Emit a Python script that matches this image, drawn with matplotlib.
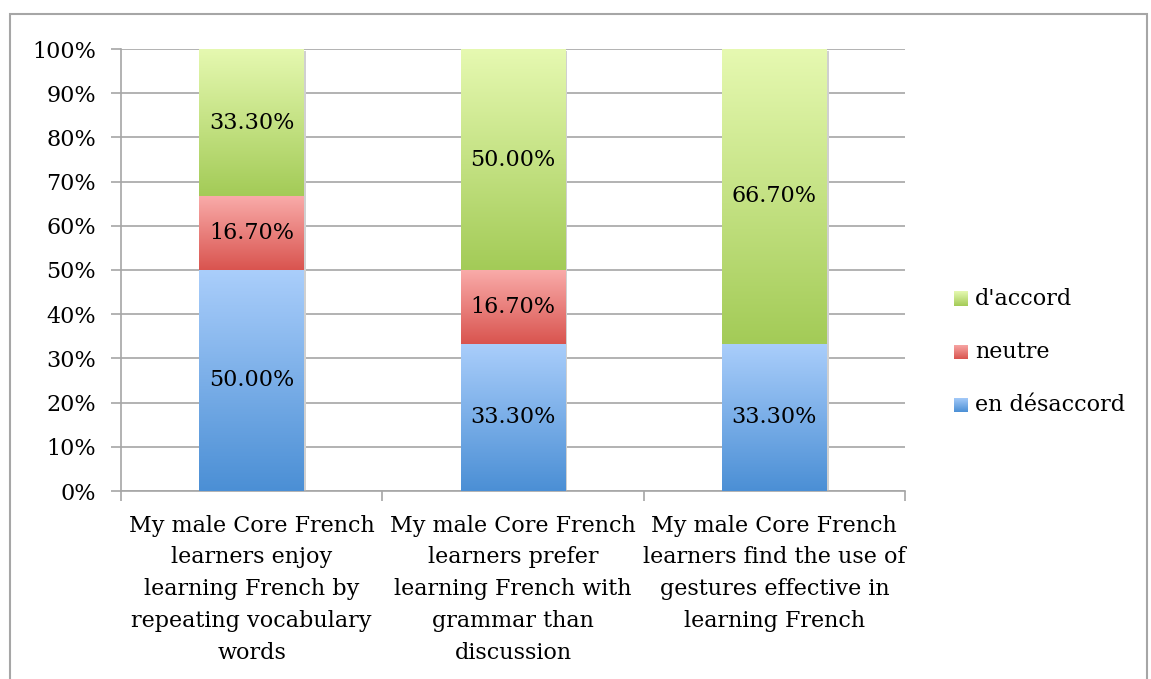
import numpy as np
import matplotlib
matplotlib.use('Agg')
import matplotlib.pyplot as plt
from matplotlib.colors import LinearSegmentedColormap
from matplotlib.patches import Rectangle

categories = [
    "My male Core French\nlearners enjoy\nlearning French by\nrepeating vocabulary\nwords",
    "My male Core French\nlearners prefer\nlearning French with\ngrammar than\ndiscussion",
    "My male Core French\nlearners find the use of\ngestures effective in\nlearning French",
]
series_names = ["en désaccord", "neutre", "d'accord"]
desaccord = [50.0, 33.3, 33.3]
neutre = [16.7, 16.7, 0.0]
accord = [33.3, 50.0, 66.7]

# couleurs : (haut, bas) du dégradé
grad = {
    "en désaccord": ("#aacefb", "#4b8fd5"),
    "neutre": ("#f9aba9", "#d9544f"),
    "d'accord": ("#e6f9b1", "#a3cb57"),
}

plt.rcParams['font.family'] = ['DejaVu Serif']
fs = 16

fig = plt.figure(figsize=(11.51, 6.79), dpi=100)
ax = fig.add_axes([121/1151, 1 - 491/679, (905-121)/1151, (491-49)/679])

# cadre extérieur
fig.patches.append(Rectangle((10/1151, -0.01), 1137/1151, 1 - 14/679 + 0.01,
                             transform=fig.transFigure, fill=False,
                             edgecolor='#a6a6a6', lw=1.5, zorder=0))

x = np.arange(len(categories))
width = 0.40
bottom = np.zeros(len(categories))
gradient = np.linspace(1, 0, 256).reshape(-1, 1)
legend_handles = []
for name, vals in zip(series_names, [desaccord, neutre, accord]):
    top_c, bot_c = grad[name]
    cmap = LinearSegmentedColormap.from_list(name, [bot_c, top_c])
    bars = ax.bar(x, vals, width, bottom=bottom, color='none', edgecolor='none', zorder=3)
    for b, v, b0 in zip(bars, vals, bottom):
        if v <= 0:
            continue
        x0 = b.get_x()
        # petite ombre
        ax.add_patch(Rectangle((x0 + 0.008, b0 - 0.4), width, v, color='#d0d0d0', zorder=2, lw=0))
        im = ax.imshow(gradient, extent=[x0, x0 + width, b0, b0 + v], aspect='auto',
                       cmap=cmap, vmin=0, vmax=1, zorder=3)
        im.set_clip_path(b)
        ax.text(x0 + width / 2, b0 + v / 2, f"{v:.2f}%", ha='center', va='center',
                fontsize=fs, zorder=5)
    bottom = bottom + np.array(vals)
    legend_handles.append((name, top_c, bot_c))

ax.set_xlim(-0.5, 2.5)
ax.set_ylim(0, 100)
ax.set_yticks(np.arange(0, 101, 10))
ax.set_yticklabels([f"{v}%" for v in range(0, 101, 10)], fontsize=fs)
ax.yaxis.grid(True, color='#a6a6a6', lw=1.2, zorder=0)
ax.set_axisbelow(True)
ax.set_xticks(x)
ax.set_xticklabels(categories, fontsize=fs, linespacing=1.58, va='top')
ax.set_xticks([-0.5, 0.5, 1.5, 2.5], minor=True)
ax.tick_params(axis='x', which='major', length=0, pad=17)
ax.tick_params(axis='x', which='minor', length=7, color='#a6a6a6', width=1.2)
ax.tick_params(axis='y', length=7, color='#a6a6a6', width=1.2, pad=11)
for s in ['top', 'right']:
    ax.spines[s].set_visible(False)
for s in ['left', 'bottom']:
    ax.spines[s].set_color('#a6a6a6')
    ax.spines[s].set_linewidth(1.2)

# légende manuelle avec carrés en dégradé
leg_y = [299, 352, 405]
for (name, top_c, bot_c), yy in zip(reversed(legend_handles), leg_y):
    cmap = LinearSegmentedColormap.from_list(name + 'l', [bot_c, top_c])
    lax = fig.add_axes([954/1151, 1 - (yy + 7.5)/679, 14/1151, 15/679])
    lax.imshow(gradient, aspect='auto', cmap=cmap, vmin=0, vmax=1)
    lax.axis('off')
    fig.text(975/1151, 1 - yy/679, name, fontsize=fs, va='center', ha='left')

fig.savefig('out.png', dpi=100)
